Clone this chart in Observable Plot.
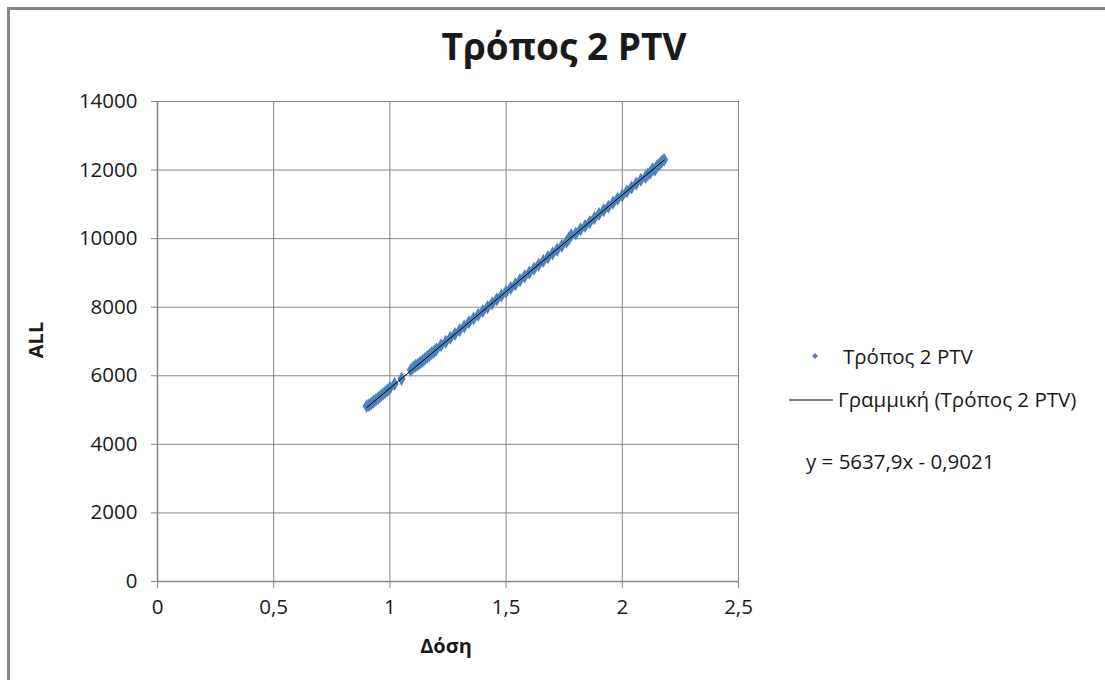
<!DOCTYPE html>
<html>
<head>
<meta charset="utf-8">
<script src="https://cdn.jsdelivr.net/npm/d3@7"></script>
<script src="https://cdn.jsdelivr.net/npm/@observablehq/plot@0.6"></script>
<style>
  html, body { margin: 0; padding: 0; background: #fff; }
  #wrap { position: relative; width: 1105px; height: 680px; overflow: hidden; font-family: "Open Sans", "Liberation Sans", sans-serif; color: #1a1a1a; }
  #frame { position: absolute; left: 7px; top: 7px; width: 1200px; height: 800px; border: 3px solid #868686; box-sizing: border-box; }
  #chart { position: absolute; left: 0; top: 0; }
  .abs { position: absolute; white-space: nowrap; }
  #title { left: 0; width: 1128px; top: 20px; text-align: center; font-size: 37px; font-weight: bold; }
  #ylab { left: 35px; top: 340px; transform: translate(-50%, -50%) rotate(-90deg); font-size: 20px; font-weight: bold; }
  #xlab { left: 446px; top: 645px; transform: translate(-50%, -50%); font-size: 20px; font-weight: bold; }
  .leg { font-size: 20.5px; }
</style>
</head>
<body>
<div id="wrap">
  <div id="frame"></div>
  <div id="chart"></div>
  <div id="title" class="abs">Τρόπος 2 PTV</div>
  <div id="ylab" class="abs">ALL</div>
  <div id="xlab" class="abs">Δόση</div>
  <svg class="abs" style="left:810px;top:351px" width="10" height="10"><path d="M5,2 L8,5 L5,8 L2,5 Z" fill="#4F81BD"/></svg>
  <div class="abs leg" style="left:843px;top:342px">Τρόπος 2 PTV</div>
  <svg class="abs" style="left:789px;top:394px" width="46" height="12"><line x1="0" y1="6" x2="44" y2="6" stroke="#000" stroke-width="1"/></svg>
  <div class="abs leg" style="left:838px;top:385px">Γραμμική (Τρόπος 2 PTV)</div>
  <div class="abs leg" style="left:806px;top:447px">y = 5637,9x - 0,9021</div>
</div>
<script>
// Data
const doseValues = [0.90,0.91,0.92,0.93,0.94,0.95,0.96,0.97,0.98,0.99,1.00,1.02,1.05,1.09,1.10,1.11,1.12,1.13,1.14,1.15,1.16,1.17,1.18,1.19,1.20,1.22,1.24,1.26,1.28,1.30,1.32,1.34,1.36,1.38,1.40,1.42,1.44,1.46,1.48,1.50,1.52,1.54,1.56,1.58,1.60,1.62,1.64,1.66,1.68,1.70,1.72,1.74,1.76,1.77,1.78,1.80,1.82,1.84,1.86,1.88,1.90,1.92,1.94,1.96,1.98,2.00,2.02,2.04,2.06,2.08,2.10,2.11,2.12,2.13,2.14,2.15,2.16,2.17,2.18];
const allValues  = [5120,5140,5190,5250,5300,5350,5410,5470,5520,5580,5640,5760,5910,6170,6240,6290,6330,6380,6430,6490,6550,6600,6660,6710,6770,6890,6990,7110,7220,7330,7440,7560,7670,7780,7890,8000,8110,8230,8340,8450,8560,8670,8790,8900,9010,9120,9240,9350,9460,9570,9680,9790,9910,10000,10100,10150,10270,10370,10480,10600,10720,10830,10930,11050,11160,11260,11380,11490,11610,11720,11800,11880,11920,12020,12010,12120,12170,12250,12300];
const trendX = [0.90, 2.18];
const trendY = [5073.2, 12289.7];
const xTicks = [0, 0.5, 1, 1.5, 2, 2.5];
const yTicks = [0, 2000, 4000, 6000, 8000, 10000, 12000, 14000];

const points = doseValues.map((d, i) => ({x: d, y: allValues[i]}));
const trend = trendX.map((d, i) => ({x: d, y: trendY[i]}));

const chart = Plot.plot({
  width: 1105,
  height: 680,
  marginLeft: 157,
  marginRight: 367,
  marginTop: 101,
  marginBottom: 99,
  style: { fontFamily: "'Open Sans', 'Liberation Sans', sans-serif", fontSize: "20.5px", color: "#1a1a1a", background: "transparent", overflow: "visible" },
  x: { domain: [0, 2.5], ticks: xTicks, tickFormat: d => String(d).replace(".", ","), label: null },
  y: { domain: [0, 14000], ticks: yTicks, tickFormat: d => String(d), label: null },
  marks: [
    Plot.gridX(xTicks, { stroke: "#868686", strokeOpacity: 1, strokeWidth: 1 }),
    Plot.gridY(yTicks, { stroke: "#868686", strokeOpacity: 1, strokeWidth: 1 }),
    Plot.ruleX([0], { stroke: "#868686", strokeWidth: 1.5 }),
    Plot.ruleY([0], { stroke: "#868686", strokeWidth: 1.5 }),
    Plot.axisX({ ticks: xTicks, tickSize: 7, tickPadding: 11, stroke: "#868686", tickFormat: d => String(d).replace(".", ","), label: null }),
    Plot.axisY({ ticks: yTicks, tickSize: 6, tickPadding: 14, stroke: "#868686", tickFormat: d => String(d), label: null }),
    Plot.dot(points, { x: "x", y: "y", symbol: "diamond", r: 3.3, fill: "#4F81BD", stroke: "#4F81BD", strokeWidth: 1.6 }),
    Plot.line(trend, { x: "x", y: "y", stroke: "#000", strokeWidth: 1 })
  ]
});
document.getElementById("chart").appendChild(chart);
</script>
</body>
</html>
